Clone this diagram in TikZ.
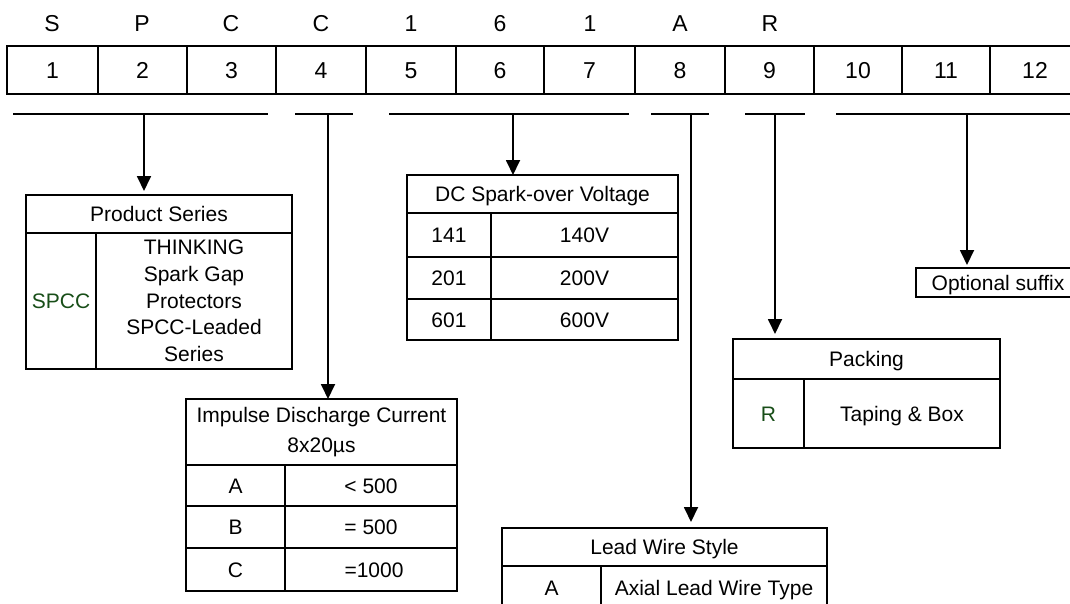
\documentclass[tikz,border=0pt]{standalone}
\usepackage{fontspec}
\setmainfont{Liberation Sans}
\usetikzlibrary{arrows.meta}
\definecolor{codegreen}{RGB}{24,78,24}
\begin{document}
\begin{tikzpicture}[x=1pt,y=-1pt,
  cell/.style={draw,line width=1.8pt,anchor=north west,inner sep=0pt,outer sep=0pt,
    font=\fontsize{21}{25}\selectfont,text height=15pt,text depth=0pt},
  mcell/.style={draw,line width=1.8pt,anchor=north west,inner sep=0pt,outer sep=0pt,
    align=center,font=\fontsize{21}{26.7}\selectfont},
  topcell/.style={draw,line width=1.8pt,anchor=north west,inner sep=0pt,outer sep=0pt,
    minimum height=48,font=\fontsize{23}{27}\selectfont,text height=16.5pt,text depth=0pt},
  toplet/.style={inner sep=0pt,font=\fontsize{23}{27}\selectfont,text height=16.5pt,text depth=0pt},
  brk/.style={line width=1.3pt},
  arr/.style={line width=1.8pt,-{Triangle[length=15pt,width=14pt]}}]
\useasboundingbox (0,0) rectangle (1070,603);
\clip (0,0) rectangle (1070,603);
% top letters
\node[toplet] (l1) at (52,23) {S};
\node[toplet] (l2) at (142,23) {P};
\node[toplet] (l3) at (231,23) {C};
\node[toplet] (l4) at (321,23) {C};
\node[toplet] (l5) at (411,23) {1};
\node[toplet] (l6) at (500,23) {6};
\node[toplet] (l7) at (590,23) {1};
\node[toplet] (l8) at (680,23) {A};
\node[toplet] (l9) at (770,23) {R};
% position cells
\node[topcell,minimum width=91] (c1) at (7,46) {1};
\node[topcell,minimum width=89] (c2) at (98,46) {2};
\node[topcell,minimum width=89] (c3) at (187,46) {3};
\node[topcell,minimum width=90] (c4) at (276,46) {4};
\node[topcell,minimum width=90] (c5) at (366,46) {5};
\node[topcell,minimum width=88] (c6) at (456,46) {6};
\node[topcell,minimum width=91] (c7) at (544,46) {7};
\node[topcell,minimum width=90] (c8) at (635,46) {8};
\node[topcell,minimum width=89] (c9) at (725,46) {9};
\node[topcell,minimum width=88] (c10) at (814,46) {10};
\node[topcell,minimum width=88] (c11) at (902,46) {11};
\node[topcell,minimum width=90] (c12) at (990,46) {12};
% brackets
\coordinate (b1l) at (13,114); \coordinate (b1r) at (268,114); \coordinate (b1) at (144,114);
\coordinate (b2l) at (295,114); \coordinate (b2r) at (353,114); \coordinate (b2) at (328,114);
\coordinate (b3l) at (389,114); \coordinate (b3r) at (629,114); \coordinate (b3) at (513,114);
\coordinate (b4l) at (651,114); \coordinate (b4r) at (709,114); \coordinate (b4) at (691,114);
\coordinate (b5l) at (745,114); \coordinate (b5r) at (805,114); \coordinate (b5) at (775,114);
\coordinate (b6l) at (836,114); \coordinate (b6r) at (1075,114); \coordinate (b6) at (967,114);
\draw[brk] (b1l) -- (b1r);
\draw[brk] (b2l) -- (b2r);
\draw[brk] (b3l) -- (b3r);
\draw[brk] (b4l) -- (b4r);
\draw[brk] (b5l) -- (b5r);
\draw[brk] (b6l) -- (b6r);
% Product Series
\node[cell,minimum width=266,minimum height=38] (psh) at (26,195) {Product Series};
\node[cell,minimum width=70,minimum height=136,text=codegreen] (psk) at (26,233) {SPCC};
\node[mcell,minimum width=196,minimum height=136] (psv) at (96,233) {THINKING\\Spark Gap\\Protectors\\SPCC-Leaded\\Series};
% DC Spark-over Voltage
\node[cell,minimum width=271,minimum height=38] (dch) at (407,175) {DC Spark-over Voltage};
\node[cell,minimum width=84,minimum height=44] (dc1k) at (407,213) {141};
\node[cell,minimum width=187,minimum height=44] (dc1v) at (491,213) {140V};
\node[cell,minimum width=84,minimum height=42] (dc2k) at (407,257) {201};
\node[cell,minimum width=187,minimum height=42] (dc2v) at (491,257) {200V};
\node[cell,minimum width=84,minimum height=41] (dc3k) at (407,299) {601};
\node[cell,minimum width=187,minimum height=41] (dc3v) at (491,299) {600V};
% Impulse Discharge Current
\node[mcell,minimum width=271,minimum height=66,font=\fontsize{21}{30}\selectfont] (imh) at (186,399) {Impulse Discharge Current\\8x20µs};
\node[cell,minimum width=99,minimum height=41] (im1k) at (186,465) {A};
\node[cell,minimum width=172,minimum height=41] (im1v) at (285,465) {< 500};
\node[cell,minimum width=99,minimum height=42] (im2k) at (186,506) {B};
\node[cell,minimum width=172,minimum height=42] (im2v) at (285,506) {= 500};
\node[cell,minimum width=99,minimum height=43] (im3k) at (186,548) {C};
\node[cell,minimum width=172,minimum height=43] (im3v) at (285,548) {\hspace*{6pt}=1000};
% Lead Wire Style
\node[cell,minimum width=325,minimum height=38] (lwh) at (502,528) {Lead Wire Style};
\node[cell,minimum width=99,minimum height=44] (lwk) at (502,566) {A};
\node[cell,minimum width=226,minimum height=44] (lwv) at (601,566) {Axial Lead Wire Type};
% Packing
\node[cell,minimum width=267,minimum height=40] (pkh) at (733,339) {Packing};
\node[cell,minimum width=71,minimum height=69,text=codegreen] (pkk) at (733,379) {R};
\node[cell,minimum width=196,minimum height=69] (pkv) at (804,379) {Taping \& Box};
% Optional suffix
\node[cell,minimum width=164,minimum height=29] (opt) at (916,268) {Optional suffix};
% arrows
\draw[arr,shorten >=4pt] (b1) -- (b1 |- psh.north);
\draw[arr] (b2) -- (b2 |- imh.north);
\draw[arr] (b3) -- (b3 |- dch.north);
\draw[arr,shorten >=6pt] (b4) -- (b4 |- lwh.north);
\draw[arr,shorten >=5pt] (b5) -- (b5 |- pkh.north);
\draw[arr,shorten >=3pt] (b6) -- (b6 |- opt.north);
\end{tikzpicture}
\end{document}
